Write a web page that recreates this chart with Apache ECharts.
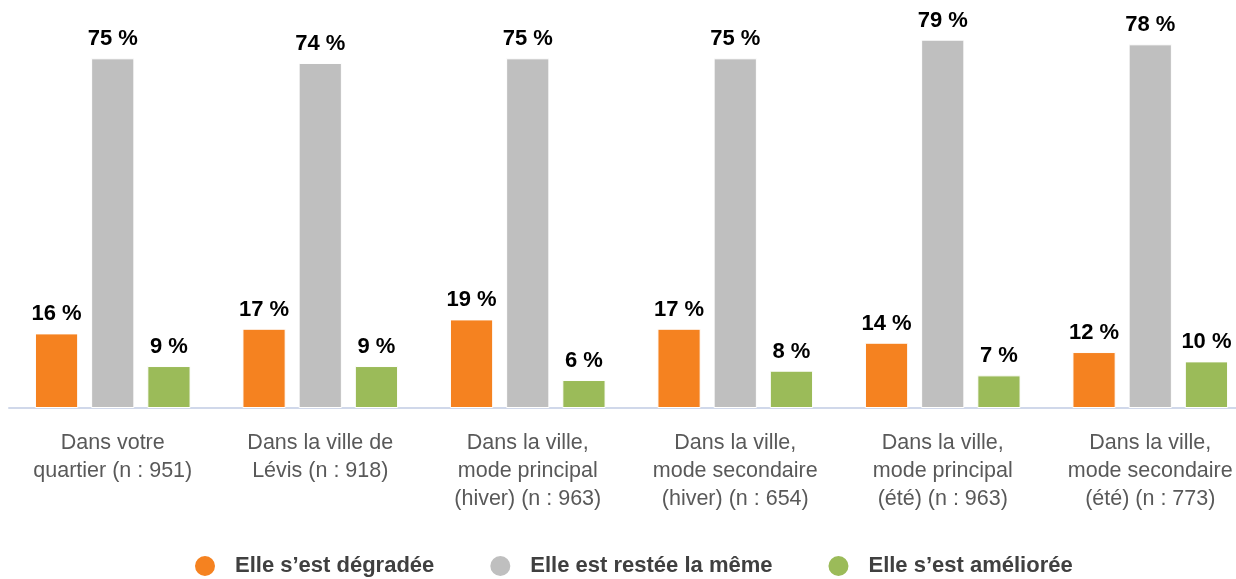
<!DOCTYPE html>
<html>
<head>
<meta charset="utf-8">
<script src="https://cdn.jsdelivr.net/npm/echarts@6/dist/echarts.min.js"></script>
<style>
  html, body { margin: 0; padding: 0; background: #fff; }
  #chart { width: 1236px; height: 579px; }
</style>
</head>
<body>
<div id="chart"></div>
<script>
const categories = [
  'Dans votre\nquartier (n : 951)',
  'Dans la ville de\nLévis (n : 918)',
  'Dans la ville,\nmode principal\n(hiver) (n : 963)',
  'Dans la ville,\nmode secondaire\n(hiver) (n : 654)',
  'Dans la ville,\nmode principal\n(été) (n : 963)',
  'Dans la ville,\nmode secondaire\n(été) (n : 773)'
];
const degradee = [16, 17, 19, 17, 14, 12];
const memeEtat = [75, 74, 75, 75, 79, 78];
const amelioree = [9, 9, 6, 8, 7, 10];

const seriesNames = ['Elle s\u2019est dégradée', 'Elle est restée la même', 'Elle s\u2019est améliorée'];
const colors = ['#F58220', '#BFBFBF', '#9BBB59'];

function bar(name, data, color) {
  return {
    name: name,
    type: 'bar',
    data: data,
    barGap: '30%',
    barCategoryGap: '25%',
    itemStyle: { color: color, borderColor: '#fff', borderWidth: 1 },
    label: {
      show: true,
      position: 'top',
      distance: 8,
      formatter: '{c} %',
      color: '#000',
      fontWeight: 'bold',
      fontSize: 22,
      fontFamily: 'Liberation Sans, Arial, sans-serif'
    }
  };
}

const chart = echarts.init(document.getElementById('chart'));
chart.setOption({
  animation: false,
  color: colors,
  grid: { left: 9, top: 35, width: 1245, height: 373, containLabel: false, outerBoundsMode: 'none' },
  legend: {
    top: 549,
    left: 188,
    icon: 'circle',
    itemWidth: 22,
    itemHeight: 22,
    itemGap: 54,
    textStyle: {
      color: '#404040',
      fontWeight: 'bold',
      fontSize: 22,
      fontFamily: 'Liberation Sans, Arial, sans-serif',
      padding: [0, 0, 0, 14]
    },
    data: seriesNames
  },
  xAxis: {
    type: 'category',
    data: categories,
    axisTick: { show: false },
    axisLine: { lineStyle: { color: '#D0D8EA', width: 2 } },
    axisLabel: {
      interval: 0,
      margin: 21,
      color: '#595959',
      fontSize: 21.5,
      lineHeight: 28,
      fontFamily: 'Liberation Sans, Arial, sans-serif'
    }
  },
  yAxis: {
    type: 'value',
    min: 0,
    max: 80,
    show: false
  },
  series: [
    bar(seriesNames[0], degradee, colors[0]),
    bar(seriesNames[1], memeEtat, colors[1]),
    bar(seriesNames[2], amelioree, colors[2])
  ]
});
</script>
</body>
</html>
